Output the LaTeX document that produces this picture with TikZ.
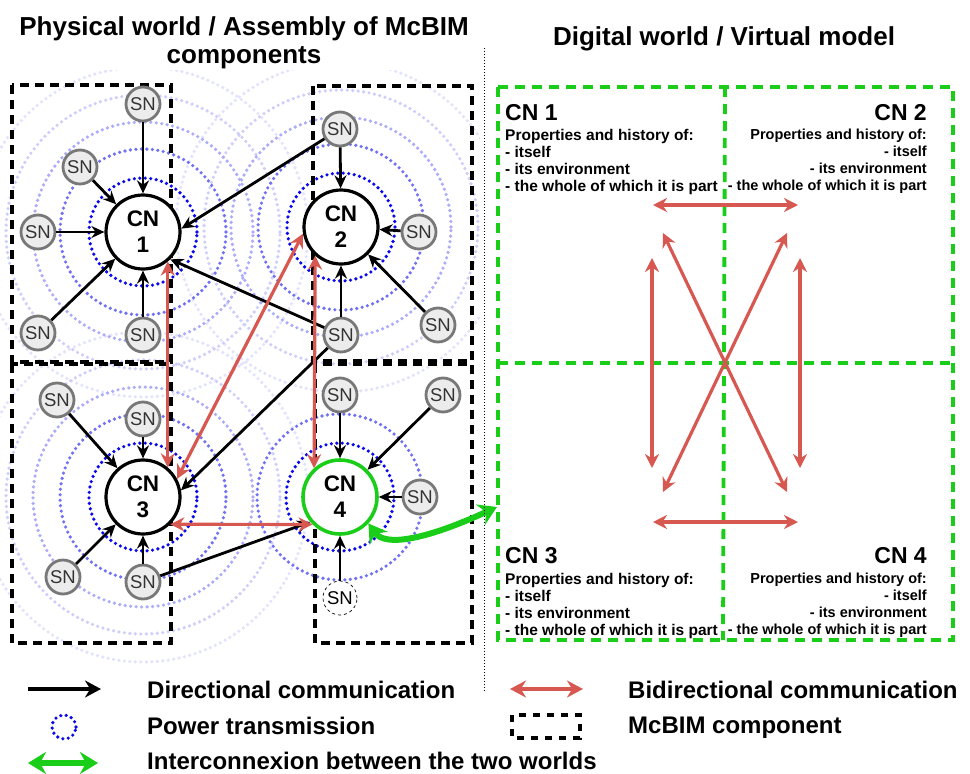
\documentclass[tikz,border=0pt]{standalone}
\usepackage{fontspec}
\setmainfont{Liberation Sans}
\usetikzlibrary{arrows.meta}

\definecolor{bidired}{RGB}{214,88,80}
\definecolor{linkgreen}{RGB}{25,205,25}
\definecolor{powerblue}{RGB}{10,10,235}
\definecolor{sngray}{RGB}{120,120,120}
\definecolor{snfill}{RGB}{236,236,236}

\begin{document}
\begin{tikzpicture}[x = 1pt, y = -1pt,
	cn/.style = {circle, draw = black, line width = 3.2pt, fill = white, minimum size = 74pt, inner sep = 0pt, align = center, font = \fontsize{22.5}{26}\selectfont\bfseries},
	sn/.style = {circle, draw = sngray, line width = 2.8pt, fill = snfill, minimum size = 34pt, inner sep = 0pt, text = black!80, font = \fontsize{18.5}{20}\selectfont},
	dircom/.style = {-{Stealth[length = 13pt, width = 12pt]}, line width = 2.8pt, black},
	bicom/.style = {{Stealth[length = 14pt, width = 14pt]}-{Stealth[length = 14pt, width = 14pt]}, line width = 3.2pt, bidired},
	interlink/.style = {{Stealth[length = 18pt, width = 22pt]}-{Stealth[length = 18pt, width = 22pt]}, line width = 6pt, linkgreen},
	power/.style = {line width = 3.6pt, line cap = round, dash pattern = on 0pt off 5.5pt},
	component/.style = {draw, line width = 3.4pt, dash pattern = on 9pt off 6pt},
	panel/.style = {draw = linkgreen, line width = 3.8pt, dash pattern = on 10pt off 7pt},
	title/.style = {font = \fontsize{26}{28}\selectfont\bfseries, align = center, inner sep = 0pt},
	cellhead/.style = {font = \fontsize{23}{26}\selectfont\bfseries, inner sep = 0pt},
	cellbody/.style = {font = \fontsize{15.5}{17}\selectfont\bfseries, inner sep = 0pt},
	legend/.style = {anchor = base west, inner sep = 0pt, font = \fontsize{24}{28}\selectfont\bfseries}]
	%	canvas
	\useasboundingbox (0, 0) rectangle (970, 774);
	
	%	titles
	\node[title, anchor = north] (physical) at (244, 16) {Physical world / Assembly of McBIM\\components};
	\node[title, anchor = base] (digital) at (724, 45) {Digital world / Virtual model};
	
	%	power transmission rings
	\begin{scope}
		\clip (0, 70) rectangle (480, 672);
		\foreach \r/\tint in {165/12, 137/20, 110/34}
			\foreach \cx/\cy in {143/232, 341/227, 143/497}
				\draw[power, powerblue!\tint] (\cx, \cy) circle (\r pt);
		\foreach \r/\tint in {83/58, 54/100}
			\foreach \cx/\cy in {143/232, 341/227, 143/497, 340/497}
				\draw[power, powerblue!\tint] (\cx, \cy) circle (\r pt);
	\end{scope}
	
	%	McBIM components
	\draw[component] (12, 85) rectangle (171, 362);
	\draw[component] (313, 86) rectangle (472, 361);
	\draw[component] (12, 364) rectangle (171, 643);
	\draw[component] (315, 364) rectangle (472, 643);
	
	%	communicating nodes
	\node[cn] (cn1) at (143, 232) {CN\\1};
	\node[cn] (cn2) at (341, 227) {CN\\2};
	\node[cn] (cn3) at (143, 497) {CN\\3};
	\node[cn, draw = linkgreen, line width = 3.6pt] (cn4) at (340, 497) {CN\\4};
	
	%	sensor nodes
	\node[sn] (sn1a) at (143, 104) {SN};
	\node[sn] (sn1b) at (80, 167) {SN};
	\node[sn] (sn1c) at (38, 232) {SN};
	\node[sn] (sn1d) at (38, 333) {SN};
	\node[sn] (sn1e) at (143, 335) {SN};
	\node[sn] (sn2a) at (340, 129) {SN};
	\node[sn] (sn2b) at (419, 232) {SN};
	\node[sn] (sn2c) at (438, 325) {SN};
	\node[sn] (sn2d) at (341, 335) {SN};
	\node[sn] (sn3a) at (57, 400) {SN};
	\node[sn] (sn3b) at (143, 419) {SN};
	\node[sn] (sn3c) at (63, 577) {SN};
	\node[sn] (sn3d) at (143, 582) {SN};
	\node[sn] (sn4a) at (340, 395) {SN};
	\node[sn] (sn4b) at (443, 395) {SN};
	\node[sn] (sn4c) at (420, 497) {SN};
	\node[sn, draw = black, line width = 0.7pt, dashed, fill = white, text = black] (sn4d) at (340, 598) {SN};
	
	%	directional communication
	\foreach \s/\c in {sn1a/cn1, sn1b/cn1, sn1c/cn1, sn1d/cn1, sn1e/cn1, sn2a/cn1.5, sn2d/cn1.-45,
		sn2a/cn2, sn2b/cn2, sn2c/cn2, sn2d/cn2,
		sn3a/cn3, sn3b/cn3, sn3c/cn3, sn3d/cn3, sn2d/cn3.10,
		sn4a/cn4, sn4b/cn4, sn4c/cn4, sn4d/cn4, sn3d/cn4.-140}
		\draw[dircom] (\s) -- (\c);
	
	%	bidirectional communication
	\draw[bicom] (cn1.-50) -- (cn3.50);
	\draw[bicom] (cn2.-170) -- (cn3.28);
	\draw[bicom] (cn2.-132) -- (cn4.132);
	\draw[bicom] (cn3.-45) -- (cn4.-135);
	
	%	virtual model
	\draw[panel] (498, 87) rectangle (953, 640);
	\draw[panel] (725, 87) -- (723, 640);
	\draw[panel] (498, 363) -- (953, 363);
	
	\node[cellhead, anchor = base west] (head1) at (505, 120) {CN 1};
	\node[cellbody, anchor = north west, align = left] (body1) at (505, 129) {Properties and history of:\\- itself\\- its environment\\- the whole of which it is part};
	\node[cellhead, anchor = base east] (head2) at (927, 120) {CN 2};
	\node[cellbody, anchor = north east, align = right, font = \fontsize{14.5}{17}\selectfont\bfseries] (body2) at (927, 129) {Properties and history of:\\- itself\\- its environment\\- the whole of which it is part};
	\node[cellhead, anchor = base west] (head3) at (505, 563) {CN 3};
	\node[cellbody, anchor = north west, align = left] (body3) at (505, 573) {Properties and history of:\\- itself\\- its environment\\- the whole of which it is part};
	\node[cellhead, anchor = base east] (head4) at (927, 563) {CN 4};
	\node[cellbody, anchor = north east, align = right, font = \fontsize{14.5}{17}\selectfont\bfseries] (body4) at (927, 573) {Properties and history of:\\- itself\\- its environment\\- the whole of which it is part};
	
	\foreach \ax/\ay/\bx/\by [count = \i] in {653/205/798/205, 653/522/798/522, 652/258/652/468, 800/258/800/468, 663/233/787/492, 787/233/663/492}{
		\coordinate (pa\i) at (\ax, \ay);
		\coordinate (pb\i) at (\bx, \by);
		\draw[bicom] (pa\i) -- (pb\i);
	}
	
	%	interconnexion
	\coordinate (link) at (497, 507);
	\draw[interlink] (cn4.-43) .. controls (385, 547) and (425, 540) .. (link);
	
	%	separator
	\draw[dotted, line width = 1pt] (484, 48) -- (484, 692);
	
	%	legend
	\coordinate (dirA) at (28, 689);
	\coordinate (dirB) at (101, 689);
	\draw[dircom, line width = 3.2pt, -{Stealth[length = 16pt, width = 17pt]}] (dirA) -- (dirB);
	\node[legend] (dirtext) at (147, 698) {Directional communication};
	
	\draw[power, powerblue] (64, 727) circle (12pt);
	\node[legend] (powtext) at (147, 734) {Power transmission};
	
	\coordinate (linkA) at (28, 763);
	\coordinate (linkB) at (98, 763);
	\draw[interlink] (linkA) -- (linkB);
	\node[legend] (linktext) at (147, 769) {Interconnexion between the two worlds};
	
	\coordinate (bidA) at (510, 689);
	\coordinate (bidB) at (583, 689);
	\draw[bicom, {Stealth[length = 16pt, width = 17pt]}-{Stealth[length = 16pt, width = 17pt]}] (bidA) -- (bidB);
	\node[legend] (bidtext) at (628, 698) {Bidirectional communication};
	
	\draw[component, dash pattern = on 7pt off 7pt] (512, 715) rectangle (580, 738);
	\node[legend] (comptext) at (628, 733) {McBIM component};
\end{tikzpicture}
\end{document}
